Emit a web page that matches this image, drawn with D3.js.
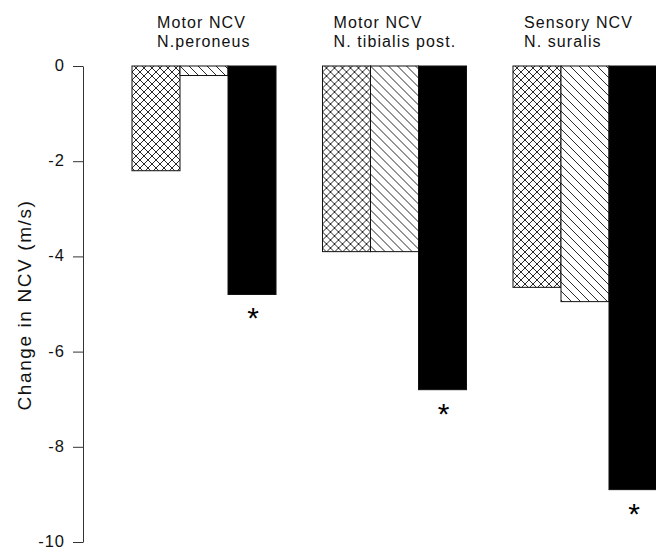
<!DOCTYPE html>
<html>
<head>
<meta charset="utf-8">
<script src="https://cdn.jsdelivr.net/npm/d3@7"></script>
<style>
  body { margin: 0; background: #fff; }
  svg { display: block; font-family: "Liberation Sans", Arial, Helvetica, sans-serif; }
</style>
</head>
<body>
<div id="chart"></div>
<script>
// Change in NCV per nerve, three treatment groups (cross-hatch, hatch, solid)
const groups = ["peroneus", "tibialis", "suralis"];
const titles = [
  ["Motor NCV", "N.peroneus"],
  ["Motor NCV", "N. tibialis post."],
  ["Sensory NCV", "N. suralis"]
];
const series = ["cross", "hatch", "solid"];
const crossVals = [-2.2, -3.9, -4.65];
const hatchVals = [-0.2, -3.9, -4.95];
const solidVals = [-4.8, -6.8, -8.9];
const significant = [true, true, true]; // asterisk under solid bar
const yTicks = [0, -2, -4, -6, -8, -10];

const W = 656, H = 550;
const svg = d3.select("#chart").append("svg")
  .attr("width", W).attr("height", H);

// patterns
const defs = svg.append("defs");
const cross = defs.append("pattern").attr("id", "cross")
  .attr("patternUnits", "userSpaceOnUse").attr("width", 8).attr("height", 8);
cross.append("rect").attr("width", 8).attr("height", 8).attr("fill", "#fff");
cross.append("path").attr("d", "M0,0L8,8M-1,7L1,9M7,-1L9,1M0,8L8,0M-1,1L1,-1M7,9L9,7")
  .attr("stroke", "#111").attr("stroke-width", 0.9);
const hatch = defs.append("pattern").attr("id", "hatch")
  .attr("patternUnits", "userSpaceOnUse").attr("width", 9).attr("height", 9);
hatch.append("rect").attr("width", 9).attr("height", 9).attr("fill", "#fff");
hatch.append("path").attr("d", "M0,0L9,9M-1,8L1,10M8,-1L10,1")
  .attr("stroke", "#111").attr("stroke-width", 0.9);
const fills = { cross: "url(#cross)", hatch: "url(#hatch)", solid: "#000" };

const axisX = 83;
const y = d3.scaleLinear().domain([-10, 0]).range([542, 66]);
const x0 = d3.scaleBand().domain(groups).range([132, 657]).paddingInner(0.244).paddingOuter(0);
const x1 = d3.scaleBand().domain(series).range([0, x0.bandwidth()]).padding(0);

const rows = groups.map((g, i) => ({
  group: g,
  values: [
    { key: "cross", value: crossVals[i] },
    { key: "hatch", value: hatchVals[i] },
    { key: "solid", value: solidVals[i] }
  ]
}));

const gGroups = svg.selectAll("g.grp").data(rows).join("g")
  .attr("class", "grp")
  .attr("transform", d => `translate(${x0(d.group)},0)`);

gGroups.selectAll("rect").data(d => d.values).join("rect")
  .attr("x", d => x1(d.key))
  .attr("y", y(0))
  .attr("width", x1.bandwidth())
  .attr("height", d => y(d.value) - y(0))
  .attr("fill", d => fills[d.key])
  .attr("stroke", "#111")
  .attr("stroke-width", 1);

// asterisks
gGroups.filter((d, i) => significant[i]).append("text")
  .attr("x", d => x1("solid") + x1.bandwidth() / 2 + 1)
  .attr("y", d => y(d.values[2].value) + 34)
  .attr("text-anchor", "middle")
  .attr("font-size", 30)
  .text("*");

// group titles
const titleOffset = [25, 11, 11];
gGroups.each(function(d, i) {
  const t = d3.select(this).append("text")
    .attr("font-size", 16)
    .attr("letter-spacing", 1.1)
    .attr("fill", "#111");
  titles[i].forEach((line, j) => {
    t.append("tspan").attr("x", titleOffset[i]).attr("y", 28 + j * 19).text(line);
  });
});

// y axis
const axis = svg.append("g")
  .attr("transform", `translate(${axisX},0)`)
  .call(d3.axisLeft(y).tickValues(yTicks).tickSize(10).tickSizeOuter(0).tickPadding(8)
    .tickFormat(d3.format("d")));
axis.select(".domain").attr("stroke", "#333");
axis.selectAll(".tick line").attr("stroke", "#333");
axis.selectAll(".tick text")
  .attr("font-size", 16.5)
  .attr("dy", "0.27em")
  .attr("letter-spacing", 1)
  .attr("font-family", "Liberation Sans, Arial, sans-serif")
  .attr("fill", "#111")
  .text(d => d === 0 ? "0" : "-" + Math.abs(d));

svg.append("text")
  .attr("transform", `translate(31,305) rotate(-90)`)
  .attr("text-anchor", "middle")
  .attr("font-size", 19)
  .attr("letter-spacing", 1.6)
  .attr("fill", "#111")
  .text("Change in NCV (m/s)");
</script>
</body>
</html>
